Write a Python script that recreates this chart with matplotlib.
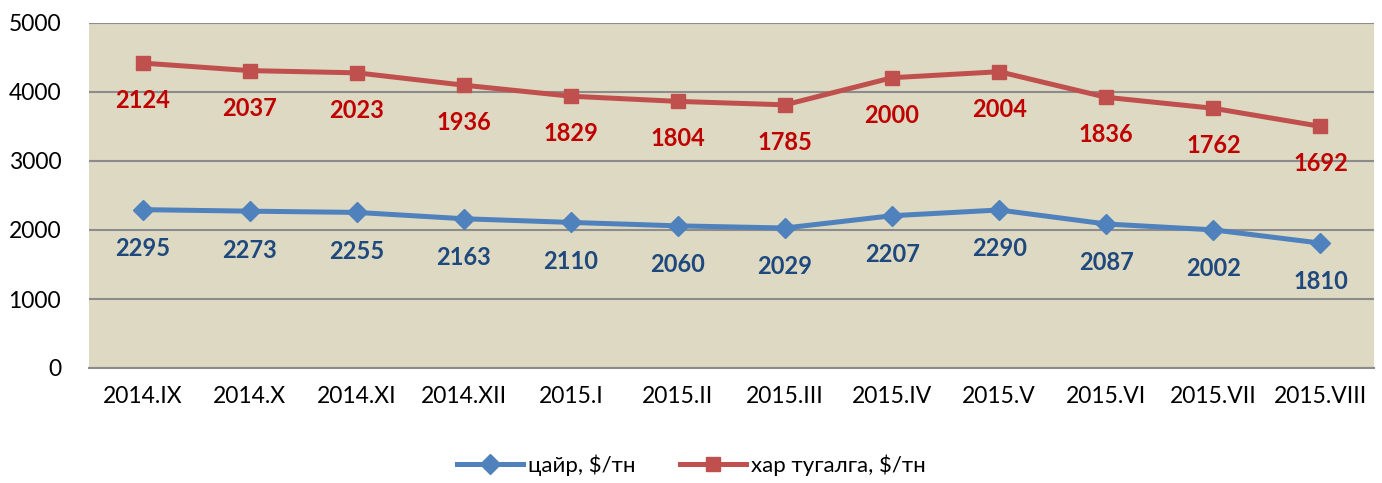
import matplotlib
matplotlib.use("Agg")
import matplotlib.pyplot as plt
import numpy as np

categories = ["2014.IX", "2014.X", "2014.XI", "2014.XII", "2015.I", "2015.II",
              "2015.III", "2015.IV", "2015.V", "2015.VI", "2015.VII", "2015.VIII"]
tsair = [2295, 2273, 2255, 2163, 2110, 2060, 2029, 2207, 2290, 2087, 2002, 1810]
khar_tugalga = [2124, 2037, 2023, 1936, 1829, 1804, 1785, 2000, 2004, 1836, 1762, 1692]
series_names = ["цайр, $/тн", "хар тугалга, $/тн"]

plt.rcParams['font.family'] = ['Lato', 'Open Sans', 'DejaVu Sans']

fig = plt.figure(figsize=(13.82, 4.83), dpi=100)
ax = fig.add_axes([89/1382, 1-368/483, (1374-89)/1382, (368-23)/483])
ax.set_facecolor('#DDD9C3')

x = np.arange(len(categories))
stacked = np.array(tsair) + np.array(khar_tugalga)

ax.plot(x, tsair, color='#4F81BD', lw=3.6, marker='D', ms=10, mec='#4F81BD',
        mfc='#4F81BD', label=series_names[0], zorder=3)
ax.plot(x, stacked, color='#C0504D', lw=3.6, marker='s', ms=10, mec='#C0504D',
        mfc='#C0504D', label=series_names[1], zorder=3)

for xi, yi, v in zip(x, tsair, tsair):
    ax.annotate(str(v), (xi, yi), xytext=(0, -28), textcoords='offset points',
                ha='center', va='center', fontsize=17, fontweight='bold', color='#1F497D')
for xi, yi, v in zip(x, stacked, khar_tugalga):
    ax.annotate(str(v), (xi, yi), xytext=(0, -27), textcoords='offset points',
                ha='center', va='center', fontsize=17, fontweight='bold', color='#C00000')

ax.set_xlim(-0.5, len(categories) - 0.5)
ax.set_ylim(0, 5000)
ax.set_yticks(range(0, 5001, 1000))
ax.set_xticks(x)
ax.set_xticklabels(categories)
ax.tick_params(axis='both', length=0, labelsize=16.5, colors='black')
ax.tick_params(axis='y', pad=20)
ax.tick_params(axis='x', pad=13)
ax.grid(axis='y', color='#8C8C8C', lw=1.5)
ax.set_axisbelow(True)
for s in ['left', 'right', 'top']:
    ax.spines[s].set_visible(False)
ax.spines['bottom'].set_color('#8C8C8C')
ax.spines['bottom'].set_linewidth(1.5)

leg = fig.legend(loc='center', bbox_to_anchor=(0.5, 1-465/483), ncol=2, frameon=False,
                 fontsize=16, handlelength=3.0, columnspacing=2.0, handletextpad=0.2)

fig.savefig('out.png', dpi=100)
